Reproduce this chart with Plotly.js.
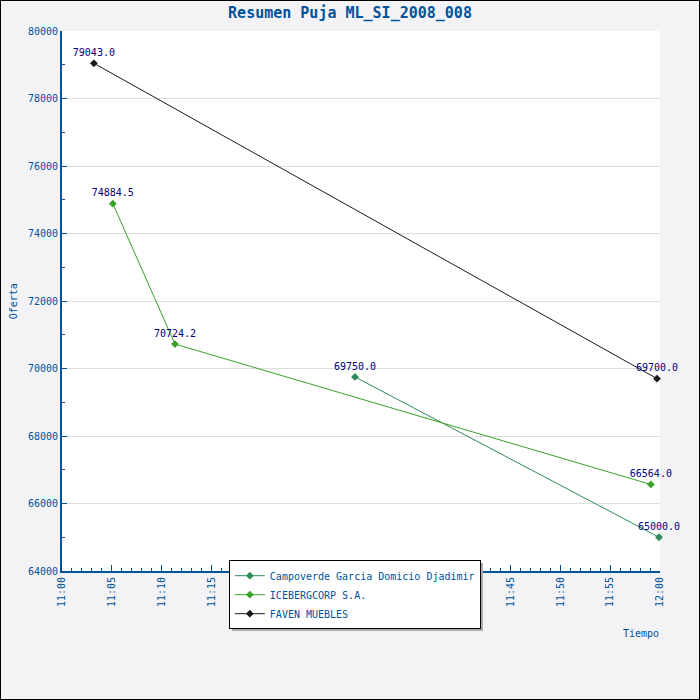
<!DOCTYPE html>
<html>
<head>
<meta charset="utf-8">
<script src="https://cdn.plot.ly/plotly-3.0.1.min.js"></script>
<style>
  html, body { margin: 0; padding: 0; background: #f3f3f5; }
  #plot { width: 700px; height: 700px; box-sizing: border-box; border: 1px solid #000; }
</style>
</head>
<body>
<div id="plot"></div>
<script>
const day = "2008-01-01 ";

// bids per bidder (time, amount)
const campoverdeTimes = ["11:29:24", "11:59:54"];
const campoverdeBids = [69750.0, 65000.0];

const icebergTimes = ["11:05:06", "11:11:20", "11:59:05"];
const icebergBids = [74884.5, 70724.2, 66564.0];

const favenTimes = ["11:03:12", "11:59:42"];
const favenBids = [79043.0, 69700.0];

const names = ["Campoverde Garcia Domicio Djadimir", "ICEBERGCORP S.A.", "FAVEN MUEBLES"];
const colors = ["#2e8b57", "#3aa02a", "#1a1a1a"];

const blue = "#00529b";
const mono = "DejaVu Sans Mono";

function series(times, bids, i) {
    return {
        type: "scatter",
        mode: "lines+markers+text",
        name: names[i],
        x: times.map(t => day + t),
        y: bids,
        text: bids.map(v => v.toFixed(1)),
        textposition: "top center",
        textfont: { family: mono, size: 10, color: "#000080" },
        line: { color: colors[i], width: 1 },
        marker: { symbol: "diamond", size: 6, color: colors[i] },
        cliponaxis: false
    };
}

const traces = [
    series(campoverdeTimes, campoverdeBids, 0),
    series(icebergTimes, icebergBids, 1),
    series(favenTimes, favenBids, 2)
];

Plotly.newPlot("plot", traces, {
    width: 698,
    height: 698,
    margin: { l: 61, r: 39, t: 30, b: 128 },
    paper_bgcolor: "#f3f3f5",
    plot_bgcolor: "#ffffff",
    font: { family: mono, size: 10, color: blue },
    title: {
        text: "<b>Resumen Puja ML_SI_2008_008</b>",
        font: { family: mono, size: 15, color: blue },
        x: 0.5, xanchor: "center", y: 0.99, yanchor: "top"
    },
    xaxis: {
        type: "date",
        range: [day + "11:00", day + "12:00"],
        dtick: 300000,
        tick0: day + "11:00",
        tickformat: "%H:%M",
        tickangle: -90,
        ticks: "inside",
        ticklen: 6,
        tickcolor: blue,
        minor: { dtick: 60000, ticks: "inside", ticklen: 3, tickcolor: blue, showgrid: false },
        showgrid: false,
        showline: true,
        linecolor: blue,
        linewidth: 2,
        zeroline: false,
        tickfont: { family: mono, size: 10, color: blue }
    },
    yaxis: {
        range: [64000, 80000],
        dtick: 2000,
        tickformat: "d",
        ticks: "inside",
        ticklen: 5,
        tickcolor: blue,
        minor: { dtick: 1000, ticks: "inside", ticklen: 3, tickcolor: blue, showgrid: false },
        showgrid: true,
        gridcolor: "#dddddd",
        showline: true,
        linecolor: blue,
        linewidth: 2,
        zeroline: false,
        tickfont: { family: mono, size: 10, color: blue }
    },
    showlegend: true,
    legend: {
        x: 0.279, xanchor: "left",
        y: 0.02, yanchor: "top",
        bgcolor: "#ffffff",
        bordercolor: "#000000",
        borderwidth: 1,
        font: { family: mono, size: 10, color: blue },
        tracegroupgap: 0
    },
    annotations: [
        { text: "Oferta", xref: "paper", yref: "paper", x: -0.094, y: 0.5, showarrow: false,
          textangle: -90, font: { family: mono, size: 10, color: blue } },
        { text: "Tiempo", xref: "paper", yref: "paper", x: 0.968, y: -0.13, xanchor: "center",
          showarrow: false, font: { family: mono, size: 10, color: blue } }
    ],
    shapes: [
        // drop shadow behind the legend box
        { type: "rect", xref: "paper", yref: "paper", x0: 0.284, x1: 0.704, y0: 0.0148, y1: -0.111,
          fillcolor: "#aaaaaa", line: { width: 0 }, layer: "above" }
    ]
}, { displayModeBar: false });
</script>
</body>
</html>
